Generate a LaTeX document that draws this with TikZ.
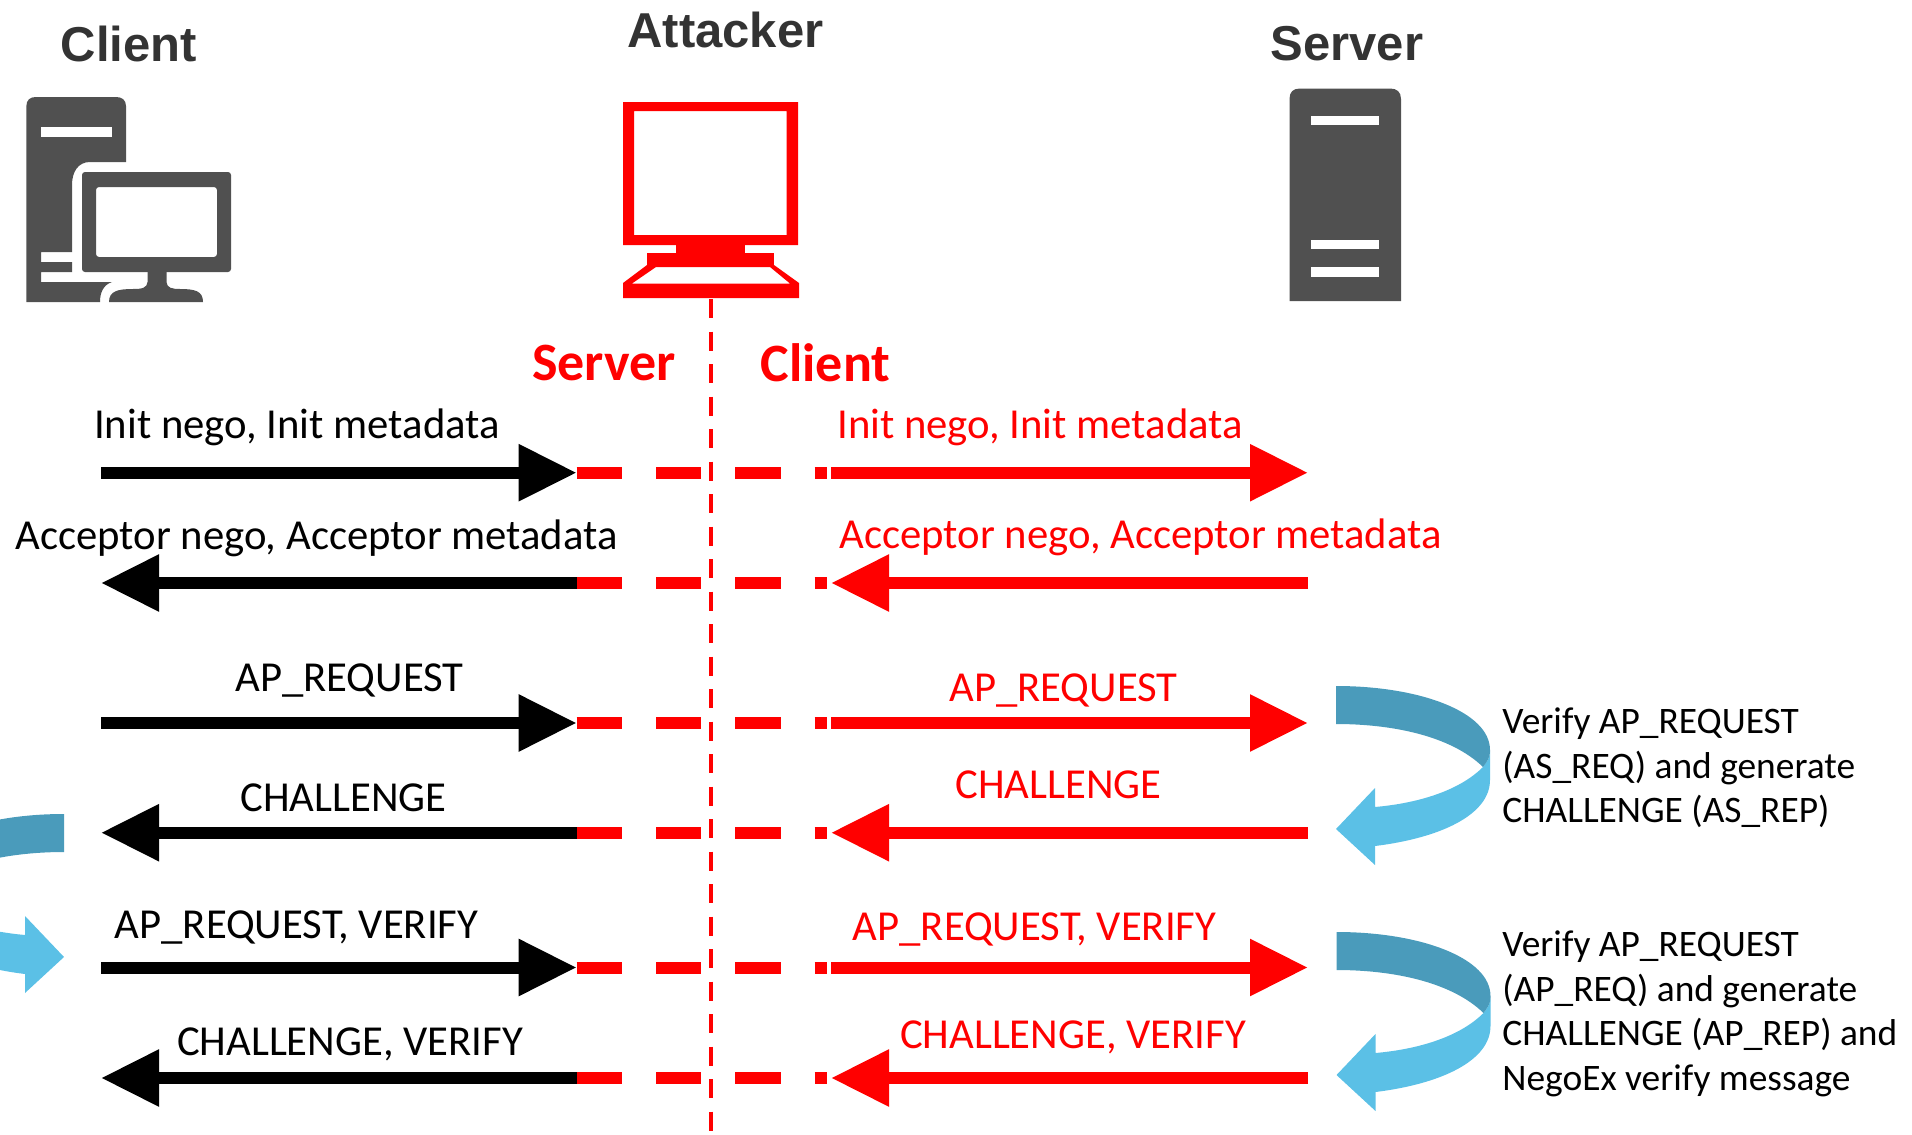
\documentclass[tikz,border=0pt]{standalone}
\usepackage{fontspec}
\setmainfont{Carlito}
\newfontfamily\titlefont{Liberation Sans}
\usetikzlibrary{arrows.meta}
\definecolor{icongrey}{HTML}{505050}
\definecolor{titlegrey}{HTML}{333333}
\definecolor{bluedark}{HTML}{4A9BBB}
\definecolor{bluelight}{HTML}{5BC0E6}
\tikzset{
  msg/.style={line width=6pt,-{Triangle[length=29pt,width=27pt]},shorten >=0pt},
  blackmsg/.style={msg,black},
  redmsg/.style={msg,red},
  reddash/.style={line width=6pt,red,dash pattern=on 22.65pt off 17pt},
  lifeline/.style={line width=2.2pt,red,dash pattern=on 9.5pt off 6.75pt},
  lbl/.style={font=\fontsize{21.35}{26}\selectfont,inner sep=0pt},
  redlbl/.style={lbl,text=red},
  note/.style={font=\fontsize{18.7}{22.3}\selectfont,inner sep=0pt,align=left,anchor=west},
  title/.style={font=\titlefont\bfseries\fontsize{24.5}{28}\selectfont,text=titlegrey,inner sep=0pt},
  redtitle/.style={font=\bfseries\fontsize{27}{30}\selectfont,text=red,inner sep=0pt},
}
\newcommand{\bluecurve}{%
  \fill[bluelight] (1483,767) .. controls (1460,790) and (1420,803) .. (1375,807)
    -- (1375,788) -- (1336,829) -- (1375,865) -- (1375,846)
    .. controls (1440,838) and (1490,815) .. (1490,780) -- (1490,752)
    .. controls (1490,757) and (1487,762) .. (1483,767) -- cycle;
  \fill[bluedark] (1336,686) .. controls (1420,686) and (1490,712) .. (1490,750) -- (1490,752)
    .. controls (1490,757) and (1487,762) .. (1483,767)
    .. controls (1450,735) and (1390,724) .. (1336,724) -- cycle;
}
\begin{document}
\begin{tikzpicture}[x=0.5pt,y=-0.5pt]
\useasboundingbox (0,0) rectangle (1912,1135);
\clip (0,0) rectangle (1912,1135);

% titles
\node[title] (tclient) at (129,43.5) {Client};
\node[title] (tattacker) at (725.5,29.5) {Attacker};
\node[title] (tserver) at (1347,44) {Server};
\node[redtitle] (rserver) at (604,363) {Server};
\node[redtitle] (rclient) at (825.5,363) {Client};

% client icon
\fill[icongrey] (26.4,302) -- (26.4,106) .. controls (26.4,100) and (30,97) .. (36,97)
  -- (116,97) .. controls (122,97) and (126,100) .. (126,106) -- (126,162) -- (90,162)
  .. controls (78,162) and (72,172) .. (72,185) -- (72,252) -- (41,252) -- (41,262)
  -- (72,262) -- (72,272) -- (41,272) -- (41,282) -- (112,282)
  .. controls (103,285) and (100,293) .. (100,302) -- cycle;
\fill[white] (41,127) rectangle (112,137);
\fill[icongrey,even odd rule,rounded corners=1.5pt] (82,172) rectangle (231,272)
  (96,187) rectangle (217,257);
\fill[icongrey] (147.5,270) -- (166.5,270) -- (166.5,282) .. controls (167,288) and (172,289) .. (180,289)
  .. controls (195,289) and (203,291) .. (203,302) -- (109,302)
  .. controls (109,291) and (118,289) .. (133,289) .. controls (142,289) and (147,288) .. (147.5,282) -- cycle;

% attacker icon
\fill[red,even odd rule] (623,102) rectangle (798,245) (634,111) rectangle (786.5,235);
\fill[red] (676,245) rectangle (745,253);
\fill[red] (647,253) rectangle (774,267);
\fill[red,even odd rule] (647,265) -- (774,265) -- (799,283) -- (799,298) -- (623,298) -- (623,283) -- cycle
  (656,267) -- (770,267) -- (790,283.5) -- (632,283.5) -- cycle;

% server icon
\fill[icongrey] (1289.5,301) -- (1289.5,99) .. controls (1289.5,92) and (1293,88.5) .. (1300,88.5)
  -- (1390,88.5) .. controls (1397,88.5) and (1401,92) .. (1401,99) -- (1401,301) -- cycle;
\fill[white] (1311,115.7) rectangle (1379,125);
\fill[white] (1311,240) rectangle (1379,249);
\fill[white] (1311,267) rectangle (1379,277);

% lifeline
\coordinate (lifeA) at (711,299);
\coordinate (lifeB) at (711,1135);
\draw[lifeline] (lifeA) -- (lifeB);

% blue loops
\bluecurve
\begin{scope}[shift={(0.5,246)}]\bluecurve\end{scope}
\begin{scope}[shift={(1400,128)},xscale=-1]\bluecurve\end{scope}

% row coordinates
\foreach \n/\y in {1/472.7,2/583,3/723,4/832.7,5/967.5,6/1078}{
  \coordinate (L\n) at (101,\y);
  \coordinate (A\n) at (576.7,\y);
  \coordinate (B\n) at (827,\y);
  \coordinate (C\n) at (831,\y);
  \coordinate (R\n) at (1308,\y);
}

% connectors
\foreach \n in {1,2,3,4,5,6}{\draw[reddash] (A\n) -- (B\n);}
\foreach \n in {1,3,5}{
  \draw[blackmsg] (L\n) -- (A\n);
  \draw[redmsg] (C\n) -- (R\n);
}
\foreach \n in {2,4,6}{
  \draw[blackmsg] (A\n) -- (L\n);
  \draw[redmsg] (R\n) -- (C\n);
}

% labels
\node[lbl] (l1) at (297,427) {Init nego, Init metadata};
\node[redlbl] (m1) at (1040,427) {Init nego, Init metadata};
\node[lbl] (l2) at (316.5,538) {Acceptor nego, Acceptor metadata};
\node[redlbl] (m2) at (1140.5,537) {Acceptor nego, Acceptor metadata};
\node[lbl] (l3) at (349.5,681) {AP\_REQUEST};
\node[redlbl] (m3) at (1063.5,691) {AP\_REQUEST};
\node[lbl] (l4) at (343.5,798) {CHALLENGE};
\node[redlbl] (m4) at (1058.5,785) {CHALLENGE};
\node[lbl] (l5) at (296.5,928) {AP\_REQUEST, VERIFY};
\node[redlbl] (m5) at (1034.5,929.5) {AP\_REQUEST, VERIFY};
\node[lbl] (l6) at (350,1044) {CHALLENGE, VERIFY};
\node[redlbl] (m6) at (1073,1037) {CHALLENGE, VERIFY};

% notes
\node[note] (n1) at (1502,768) {Verify AP\_REQUEST\\(AS\_REQ) and generate\\CHALLENGE (AS\_REP)};
\node[note] (n2) at (1502,1014) {Verify AP\_REQUEST\\(AP\_REQ) and generate\\CHALLENGE (AP\_REP) and\\NegoEx verify message};
\end{tikzpicture}
\end{document}
